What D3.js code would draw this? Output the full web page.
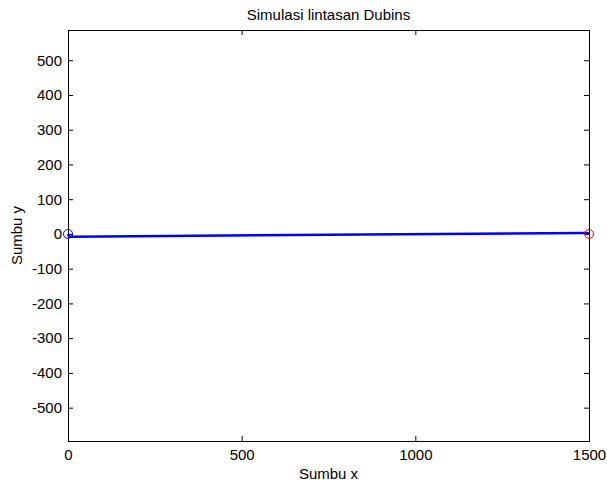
<!DOCTYPE html>
<html>
<head>
<meta charset="utf-8">
<script src="https://cdn.jsdelivr.net/npm/d3@7"></script>
<style>
  body { margin: 0; background: #fff; }
  svg text { font-family: "Liberation Sans", Arial, sans-serif; fill: #000; }
</style>
</head>
<body>
<div id="chart"></div>
<script>
// data
const xTicks = [0, 500, 1000, 1500];
const yTicks = [-500, -400, -300, -200, -100, 0, 100, 200, 300, 400, 500];
const xDomain = [0, 1500];
const yDomain = [-596, 587];
// lintasan (path) points
const pathX = [0, 2, 6, 1494, 1498, 1500];
const pathY = [0, -5, -8, 3, 2, 0];
const startPt = [0, 0];
const endPt = [1500, 0];

const w = 607, h = 483;
const margin = { left: 68, right: 18, top: 30, bottom: 42 };
const gw = w - margin.left - margin.right;
const gh = h - margin.top - margin.bottom;

const svg = d3.select("#chart")
    .append("svg")
    .attr("width", w)
    .attr("height", h)
    .style("background", "#fff");

const graph = svg.append("g")
    .attr("transform", `translate(${margin.left},${margin.top})`);

// scales
const xScale = d3.scaleLinear().domain(xDomain).range([0, gw]);
const yScale = d3.scaleLinear().domain(yDomain).range([gh, 0]);

const fmt = d => String(d);
const fs = "15px";

// axes, ticks point inward
const xBottom = d3.axisBottom(xScale).tickValues(xTicks).tickSizeInner(-5).tickSizeOuter(0).tickPadding(8).tickFormat(fmt);
const xTop = d3.axisTop(xScale).tickValues(xTicks).tickSizeInner(-5).tickSizeOuter(0).tickFormat("");
const yLeft = d3.axisLeft(yScale).tickValues(yTicks).tickSizeInner(-5).tickSizeOuter(0).tickPadding(6).tickFormat(fmt);
const yRight = d3.axisRight(yScale).tickValues(yTicks).tickSizeInner(-5).tickSizeOuter(0).tickFormat("");

const axes = [
    graph.append("g").attr("transform", `translate(0,${gh})`).call(xBottom),
    graph.append("g").call(xTop),
    graph.append("g").call(yLeft),
    graph.append("g").attr("transform", `translate(${gw},0)`).call(yRight)
];
axes.forEach(g => {
    g.select(".domain").remove();
    g.selectAll("line").attr("stroke", "#000");
    g.selectAll("text").attr("font-size", fs).attr("font-family", "Liberation Sans, Arial").attr("fill", "#000");
});

// box
graph.append("rect")
    .attr("width", gw)
    .attr("height", gh)
    .attr("fill", "none")
    .attr("stroke", "#000")
    .attr("stroke-width", 1)
    .attr("shape-rendering", "crispEdges");

// path line
const line = d3.line().x(d => xScale(d[0])).y(d => yScale(d[1]));
graph.append("path")
    .datum(pathX.map((x, i) => [x, pathY[i]]))
    .attr("d", line)
    .attr("fill", "none")
    .attr("stroke", "#0000ff")
    .attr("stroke-width", 2.5);

// start and end markers
graph.append("circle")
    .attr("cx", xScale(startPt[0])).attr("cy", yScale(startPt[1]))
    .attr("r", 4.5).attr("fill", "none").attr("stroke", "#0000ff");
graph.append("circle")
    .attr("cx", xScale(endPt[0])).attr("cy", yScale(endPt[1]))
    .attr("r", 4.5).attr("fill", "none").attr("stroke", "#ff0000");

// title and labels
svg.append("text")
    .text("Simulasi lintasan Dubins")
    .attr("x", margin.left + gw / 2)
    .attr("y", 20)
    .attr("text-anchor", "middle")
    .attr("font-size", fs);
svg.append("text")
    .text("Sumbu x")
    .attr("x", margin.left + gw / 2)
    .attr("y", 479)
    .attr("text-anchor", "middle")
    .attr("font-size", fs);
svg.append("text")
    .text("Sumbu y")
    .attr("transform", `translate(22,${margin.top + gh / 2}) rotate(-90)`)
    .attr("text-anchor", "middle")
    .attr("font-size", fs);
</script>
</body>
</html>
